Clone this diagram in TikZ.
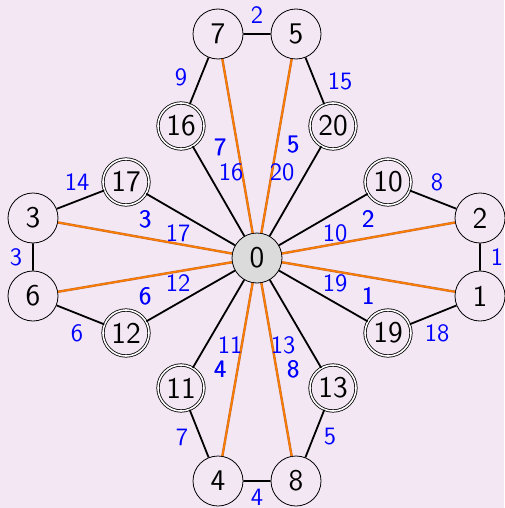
\documentclass[tikz,border=0pt]{standalone}
\usepackage{tikz}
\definecolor{bgc}{RGB}{243,231,244}
\definecolor{lblue}{RGB}{0,0,255}
\definecolor{orng}{RGB}{255,128,0}
\definecolor{orngd}{RGB}{200,100,30}
\tikzset{
  vtx/.style={circle, draw, line width=0.4pt, minimum size=25pt, inner sep=0pt, font=\sffamily\fontsize{15}{18}\selectfont},
  dvtx/.style={circle, draw, double, double distance=0.8pt, line width=0.4pt, minimum size=23pt, inner sep=0pt, font=\sffamily\fontsize{15}{18}\selectfont},
  ctr/.style={vtx, fill=gray!28},
  bl/.style={line width=0.9pt, black},
  og/.style={line width=1.2pt, orngd, postaction={draw, orng, line width=0.7pt}},
  lab/.style={text=lblue, font=\sffamily\fontsize{12.5}{15}\selectfont, inner sep=0pt},
  blab/.style={lab, postaction={}}
}
\newcommand{\dlab}[3]{\node[lab] (#1) at (#2) {#3};\node[lab] at ($(#2)+(0.5,0)$) {#3};}
\usetikzlibrary{calc}
\begin{document}
\begin{tikzpicture}[x=0.5pt,y=-0.5pt]
\fill[bgc] (0,0) rectangle (504,508);
\useasboundingbox (0,0) rectangle (504,508);
% nodes
\node[ctr] (n0) at (257,258) {0};
\node[vtx] (n7) at (218,34) {7};
\node[vtx] (n5) at (296,34) {5};
\node[dvtx] (n16) at (181,126) {16};
\node[dvtx] (n20) at (333,126) {20};
\node[dvtx] (n17) at (126,182) {17};
\node[vtx] (n3) at (33,218) {3};
\node[vtx] (n6) at (33,296) {6};
\node[dvtx] (n12) at (126,333) {12};
\node[dvtx] (n10) at (388,182) {10};
\node[vtx] (n2) at (480,218) {2};
\node[vtx] (n1) at (480,296) {1};
\node[dvtx] (n19) at (388,333) {19};
\node[dvtx] (n11) at (181,388) {11};
\node[dvtx] (n13) at (333,388) {13};
\node[vtx] (n4) at (218,481) {4};
\node[vtx] (n8) at (296,481) {8};
% orange edges
\foreach \t in {n7,n5,n3,n6,n2,n1,n4,n8}
  \draw[og] (n0) -- (\t);
% black edges
\draw[bl] (n0) -- (n16) -- (n7) -- (n5) -- (n20) -- (n0);
\draw[bl] (n0) -- (n17) -- (n3) -- (n6) -- (n12) -- (n0);
\draw[bl] (n0) -- (n10) -- (n2) -- (n1) -- (n19) -- (n0);
\draw[bl] (n0) -- (n11) -- (n4) -- (n8) -- (n13) -- (n0);
% labels
\node[lab] (l1) at (257,15) {2};
\node[lab] (l2) at (181,77) {9};
\node[lab] (l3) at (340,81) {15};
\dlab{l4}{220,147}{7}
\node[lab] (l5) at (231,172) {16};
\dlab{l6}{293,145}{5}
\node[lab] (l7) at (282,172) {20};
\node[lab] (l8) at (77,182) {14};
\dlab{l9}{145,219}{3}
\node[lab] (l10) at (178,233) {17};
\node[lab] (l11) at (16,257) {3};
\node[lab] (l12) at (77,333) {6};
\dlab{l13}{145,296}{6}
\node[lab] (l14) at (178,283) {12};
\node[lab] (l15) at (437,182) {8};
\dlab{l16}{368,219}{2}
\node[lab] (l17) at (335,233) {10};
\node[lab] (l18) at (335,283) {19};
\dlab{l19}{368,296}{1}
\node[lab] (l20) at (437,333) {18};
\node[lab] (l21) at (497,257) {1};
\node[lab] (l22) at (230,345) {11};
\dlab{l23}{220,369}{4}
\node[lab] (l24) at (283,345) {13};
\dlab{l25}{293,369}{8}
\node[lab] (l26) at (182,437) {7};
\node[lab] (l27) at (330,437) {5};
\node[lab] (l28) at (257,497) {4};
\end{tikzpicture}
\end{document}
